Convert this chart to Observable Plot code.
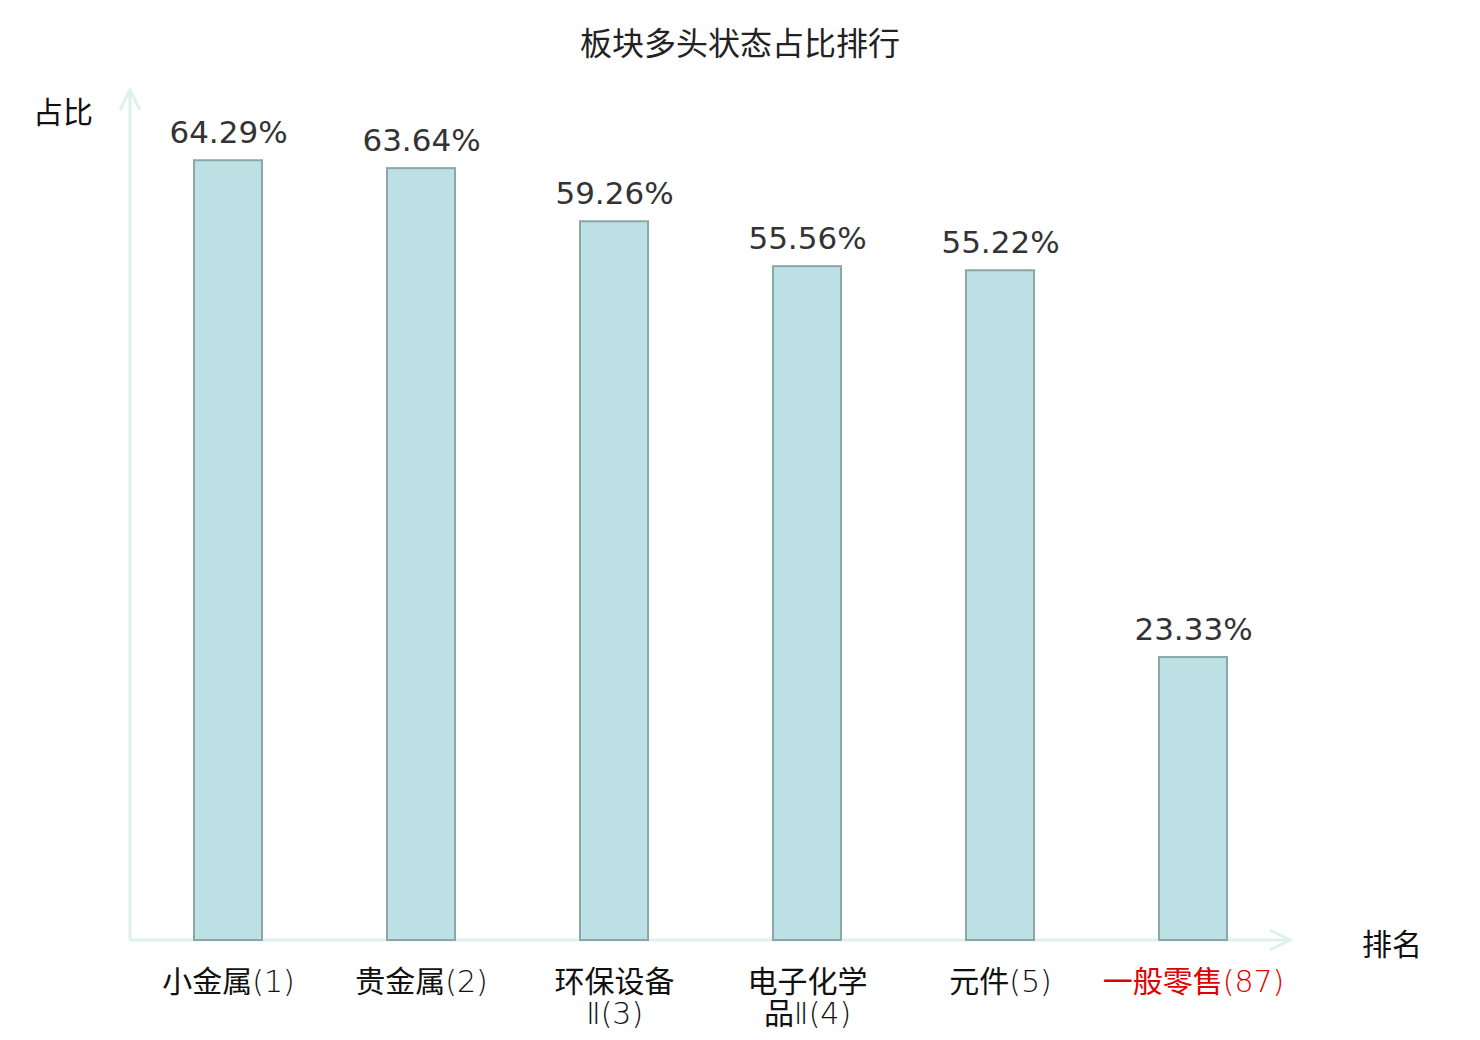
<!DOCTYPE html>
<html><head><meta charset="utf-8">
<script src="https://cdn.jsdelivr.net/npm/d3@7"></script>
<script src="https://cdn.jsdelivr.net/npm/@observablehq/plot@0.6"></script>
<style>
body{margin:0;background:#fff}
#title{width:1480px;height:84px;line-height:82px;text-align:center;font-size:32px;font-family:"Noto Sans CJK SC","DejaVu Sans",sans-serif;color:#222}
</style>
</head><body>
<div id="title">板块多头状态占比排行</div>
<div id="chart"></div>
<script>
const categories = ["小金属","贵金属","环保设备Ⅱ","电子化学品Ⅱ","元件","一般零售"];
const ranks = [1, 2, 3, 4, 5, 87];
const values = [64.29, 63.64, 59.26, 55.56, 55.22, 23.33];
const tickLabels = ["小金属(1)","贵金属(2)","环保设备\nⅡ(3)","电子化学\n品Ⅱ(4)","元件(5)","一般零售(87)"];
const highlight = [false, false, false, false, false, true];
const yLabel = "占比";
const xLabel = "排名";

const data = categories.map((c, i) => ({name: c, rank: ranks[i], value: values[i], label: tickLabels[i], hl: highlight[i]}));

const W = 1480, H = 956, mL = 130, mR = 190, mT = 7, mB = 100;
const labelFont = "'DejaVu Sans Light','DejaVu Sans','Noto Sans CJK SC',sans-serif";
const plot = Plot.plot({
  width: W, height: H, marginTop: mT, marginBottom: mB, marginLeft: mL, marginRight: mR,
  x: {domain: categories, paddingInner: 0.65, paddingOuter: 0.325, axis: null},
  y: {domain: [0, 70], axis: null},
  style: {fontFamily: "'DejaVu Sans','Noto Sans CJK SC',sans-serif", background: "#fff"},
  marks: [
    Plot.barY(data, {x: "name", y: "value", fill: "#bce0e3", stroke: "#8aa8aa", strokeWidth: 2}),
    Plot.text(data, {x: "name", y: "value", text: d => d.value.toFixed(2) + "%", dy: -18, lineAnchor: "bottom", fontSize: 31, fill: "#333"}),
    Plot.text(data.filter(d => !d.hl), {x: "name", y: () => 0, text: "label", dy: 28, lineAnchor: "top", fontSize: 30, lineHeight: 1.08, fill: "#111", fontFamily: labelFont}),
    Plot.text(data.filter(d => d.hl), {x: "name", y: () => 0, text: "label", dy: 28, lineAnchor: "top", fontSize: 30, lineHeight: 1.08, fill: "#e00000", fontFamily: labelFont})
  ]
});

const svg = d3.select(plot);
const y0 = plot.scale("y").apply(0);
const x0 = mL, x1 = W - mR, yTop = 6;
const g = svg.insert("g", "g").attr("stroke", "#dff1ef").attr("stroke-width", 3).attr("fill", "none");
g.append("line").attr("x1", x0).attr("y1", y0).attr("x2", x1).attr("y2", y0);
g.append("path").attr("d", `M${x1 - 20},${y0 - 10}L${x1},${y0}L${x1 - 20},${y0 + 10}`);
g.append("line").attr("x1", x0).attr("y1", y0).attr("x2", x0).attr("y2", yTop);
g.append("path").attr("d", `M${x0 - 10},${yTop + 20}L${x0},${yTop}L${x0 + 10},${yTop + 20}`);
svg.append("text").attr("x", 63).attr("y", 26).attr("text-anchor", "middle").attr("dominant-baseline", "central")
  .attr("font-size", 30).attr("font-family", "'Noto Sans CJK SC',sans-serif").attr("fill", "#111").text(yLabel);
svg.append("text").attr("x", 1392).attr("y", y0 + 2).attr("text-anchor", "middle").attr("dominant-baseline", "central")
  .attr("font-size", 30).attr("font-family", "'Noto Sans CJK SC',sans-serif").attr("fill", "#111").text(xLabel);

document.getElementById("chart").appendChild(plot);
</script>
</body></html>
